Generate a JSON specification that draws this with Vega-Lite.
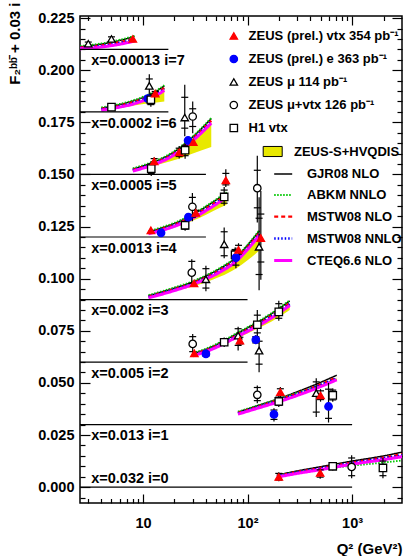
{
"$schema": "https://vega.github.io/schema/vega-lite/v6.json",
"width": 322, "height": 487,
"autosize": {"type": "none"},
"padding": {"left": 80, "top": 16, "right": 1, "bottom": 53},
"background": "white",
"datasets": {
"theory": [
{"i":7,"q":2.5,"gjr":0.2113,"abkm":0.2116,"mnlo":0.2109,"mnnlo":0.2107,"cteq":0.2103,"blo":0.2105,"bhi":0.2108},
{"i":7,"q":3.5,"gjr":0.2121,"abkm":0.2124,"mnlo":0.2116,"mnnlo":0.2113,"cteq":0.2108,"blo":0.2112,"bhi":0.2113},
{"i":7,"q":5,"gjr":0.2134,"abkm":0.2137,"mnlo":0.2127,"mnnlo":0.2123,"cteq":0.2118,"blo":0.2120,"bhi":0.2124},
{"i":7,"q":6.5,"gjr":0.2147,"abkm":0.2150,"mnlo":0.2139,"mnnlo":0.2134,"cteq":0.2128,"blo":0.2130,"bhi":0.2135},
{"i":7,"q":8.3,"gjr":0.2162,"abkm":0.2165,"mnlo":0.2152,"mnnlo":0.2147,"cteq":0.2140,"blo":0.2140,"bhi":0.2147},
{"i":6,"q":4,"gjr":0.1818,"abkm":0.1821,"mnlo":0.1814,"mnnlo":0.1812,"cteq":0.1808,"blo":0.1808,"bhi":0.1813},
{"i":6,"q":6,"gjr":0.1835,"abkm":0.1838,"mnlo":0.1830,"mnnlo":0.1827,"cteq":0.1823,"blo":0.1820,"bhi":0.1828},
{"i":6,"q":8,"gjr":0.1852,"abkm":0.1855,"mnlo":0.1846,"mnnlo":0.1842,"cteq":0.1837,"blo":0.1830,"bhi":0.1843},
{"i":6,"q":11,"gjr":0.1878,"abkm":0.1881,"mnlo":0.1870,"mnnlo":0.1867,"cteq":0.1861,"blo":0.1840,"bhi":0.1867},
{"i":6,"q":13.5,"gjr":0.1900,"abkm":0.1903,"mnlo":0.1891,"mnnlo":0.1887,"cteq":0.1880,"blo":0.1845,"bhi":0.1887},
{"i":6,"q":16,"gjr":0.1925,"abkm":0.1928,"mnlo":0.1915,"mnnlo":0.1910,"cteq":0.1903,"blo":0.1850,"bhi":0.1910},
{"i":5,"q":8,"gjr":0.1526,"abkm":0.1529,"mnlo":0.1522,"mnnlo":0.1520,"cteq":0.1516,"blo":0.1516,"bhi":0.1521},
{"i":5,"q":12,"gjr":0.1555,"abkm":0.1558,"mnlo":0.1550,"mnnlo":0.1548,"cteq":0.1543,"blo":0.1538,"bhi":0.1548},
{"i":5,"q":18,"gjr":0.1595,"abkm":0.1598,"mnlo":0.1589,"mnnlo":0.1586,"cteq":0.1581,"blo":0.1562,"bhi":0.1587},
{"i":5,"q":25,"gjr":0.1645,"abkm":0.1648,"mnlo":0.1638,"mnnlo":0.1634,"cteq":0.1629,"blo":0.1585,"bhi":0.1635},
{"i":5,"q":30,"gjr":0.1680,"abkm":0.1683,"mnlo":0.1672,"mnnlo":0.1668,"cteq":0.1662,"blo":0.1600,"bhi":0.1668},
{"i":5,"q":36,"gjr":0.1718,"abkm":0.1721,"mnlo":0.1709,"mnnlo":0.1705,"cteq":0.1698,"blo":0.1615,"bhi":0.1705},
{"i":5,"q":45,"gjr":0.1768,"abkm":0.1771,"mnlo":0.1758,"mnnlo":0.1753,"cteq":0.1746,"blo":0.1632,"bhi":0.1753},
{"i":4,"q":11.3,"gjr":0.1225,"abkm":0.1228,"mnlo":0.1221,"mnnlo":0.1219,"cteq":0.1215,"blo":0.1216,"bhi":0.1220},
{"i":4,"q":15,"gjr":0.1243,"abkm":0.1246,"mnlo":0.1238,"mnnlo":0.1235,"cteq":0.1231,"blo":0.1228,"bhi":0.1236},
{"i":4,"q":20,"gjr":0.1265,"abkm":0.1268,"mnlo":0.1259,"mnnlo":0.1256,"cteq":0.1251,"blo":0.1245,"bhi":0.1257},
{"i":4,"q":27,"gjr":0.1295,"abkm":0.1298,"mnlo":0.1288,"mnnlo":0.1285,"cteq":0.1279,"blo":0.1268,"bhi":0.1285},
{"i":4,"q":35,"gjr":0.1327,"abkm":0.1330,"mnlo":0.1319,"mnnlo":0.1315,"cteq":0.1309,"blo":0.1292,"bhi":0.1315},
{"i":4,"q":47,"gjr":0.1368,"abkm":0.1371,"mnlo":0.1359,"mnnlo":0.1354,"cteq":0.1348,"blo":0.1325,"bhi":0.1355},
{"i":4,"q":63,"gjr":0.1412,"abkm":0.1415,"mnlo":0.1402,"mnnlo":0.1397,"cteq":0.1390,"blo":0.1355,"bhi":0.1397},
{"i":3,"q":11.3,"gjr":0.0918,"abkm":0.0921,"mnlo":0.0914,"mnnlo":0.0912,"cteq":0.0908,"blo":0.0910,"bhi":0.0913},
{"i":3,"q":20,"gjr":0.0955,"abkm":0.0958,"mnlo":0.0950,"mnnlo":0.0948,"cteq":0.0943,"blo":0.0940,"bhi":0.0949},
{"i":3,"q":30,"gjr":0.0985,"abkm":0.0988,"mnlo":0.0979,"mnnlo":0.0976,"cteq":0.0972,"blo":0.0962,"bhi":0.0977},
{"i":3,"q":40,"gjr":0.1013,"abkm":0.1016,"mnlo":0.1006,"mnnlo":0.1003,"cteq":0.0998,"blo":0.0983,"bhi":0.1004},
{"i":3,"q":55,"gjr":0.1050,"abkm":0.1053,"mnlo":0.1043,"mnnlo":0.1039,"cteq":0.1033,"blo":0.1010,"bhi":0.1039},
{"i":3,"q":77,"gjr":0.1100,"abkm":0.1103,"mnlo":0.1092,"mnnlo":0.1088,"cteq":0.1081,"blo":0.1048,"bhi":0.1088},
{"i":3,"q":100,"gjr":0.1160,"abkm":0.1163,"mnlo":0.1151,"mnnlo":0.1146,"cteq":0.1140,"blo":0.1088,"bhi":0.1146},
{"i":3,"q":130,"gjr":0.1230,"abkm":0.1233,"mnlo":0.1220,"mnnlo":0.1215,"cteq":0.1208,"blo":0.1135,"bhi":0.1215},
{"i":2,"q":30,"gjr":0.0640,"abkm":0.0643,"mnlo":0.0636,"mnnlo":0.0634,"cteq":0.0630,"blo":0.0631,"bhi":0.0635},
{"i":2,"q":45,"gjr":0.0672,"abkm":0.0675,"mnlo":0.0667,"mnnlo":0.0664,"cteq":0.0660,"blo":0.0658,"bhi":0.0665},
{"i":2,"q":60,"gjr":0.0703,"abkm":0.0706,"mnlo":0.0697,"mnnlo":0.0694,"cteq":0.0689,"blo":0.0684,"bhi":0.0695},
{"i":2,"q":85,"gjr":0.0745,"abkm":0.0748,"mnlo":0.0738,"mnnlo":0.0734,"cteq":0.0729,"blo":0.0720,"bhi":0.0735},
{"i":2,"q":124,"gjr":0.0790,"abkm":0.0793,"mnlo":0.0782,"mnnlo":0.0778,"cteq":0.0772,"blo":0.0760,"bhi":0.0778},
{"i":2,"q":170,"gjr":0.0832,"abkm":0.0835,"mnlo":0.0823,"mnnlo":0.0819,"cteq":0.0812,"blo":0.0795,"bhi":0.0819},
{"i":2,"q":253,"gjr":0.0893,"abkm":0.0896,"mnlo":0.0883,"mnnlo":0.0878,"cteq":0.0871,"blo":0.0850,"bhi":0.0878},
{"i":1,"q":81,"gjr":0.0360,"abkm":0.0362,"mnlo":0.0356,"mnnlo":0.0354,"cteq":0.0350,"blo":0.0350,"bhi":0.0355},
{"i":1,"q":120,"gjr":0.0388,"abkm":0.0389,"mnlo":0.0383,"mnnlo":0.0381,"cteq":0.0376,"blo":0.0376,"bhi":0.0381},
{"i":1,"q":200,"gjr":0.0425,"abkm":0.0424,"mnlo":0.0419,"mnnlo":0.0417,"cteq":0.0410,"blo":0.0410,"bhi":0.0416},
{"i":1,"q":300,"gjr":0.0458,"abkm":0.0453,"mnlo":0.0450,"mnnlo":0.0447,"cteq":0.0440,"blo":0.0440,"bhi":0.0447},
{"i":1,"q":450,"gjr":0.0493,"abkm":0.0482,"mnlo":0.0484,"mnnlo":0.0481,"cteq":0.0473,"blo":0.0472,"bhi":0.0480},
{"i":1,"q":713,"gjr":0.0537,"abkm":0.0518,"mnlo":0.0527,"mnnlo":0.0522,"cteq":0.0515,"blo":0.0512,"bhi":0.0522},
{"i":0,"q":191,"gjr":0.0058,"abkm":0.0056,"mnlo":0.0054,"mnnlo":0.0052,"cteq":0.0048,"blo":0.0050,"bhi":0.0053},
{"i":0,"q":300,"gjr":0.0078,"abkm":0.0072,"mnlo":0.0073,"mnnlo":0.0071,"cteq":0.0066,"blo":0.0067,"bhi":0.0071},
{"i":0,"q":500,"gjr":0.0098,"abkm":0.0086,"mnlo":0.0092,"mnnlo":0.0090,"cteq":0.0084,"blo":0.0084,"bhi":0.0089},
{"i":0,"q":1000,"gjr":0.0125,"abkm":0.0103,"mnlo":0.0118,"mnnlo":0.0116,"cteq":0.0110,"blo":0.0109,"bhi":0.0116},
{"i":0,"q":2000,"gjr":0.0150,"abkm":0.0118,"mnlo":0.0142,"mnnlo":0.0139,"cteq":0.0132,"blo":0.0131,"bhi":0.0138},
{"i":0,"q":3000,"gjr":0.0168,"abkm":0.0128,"mnlo":0.0158,"mnnlo":0.0153,"cteq":0.0146,"blo":0.0145,"bhi":0.0153}
],
"points": [
{"i":7,"s":"c","q":3.0,"y":0.2127,"tlo":0.2115,"thi":0.2140,"slo":0.2119,"shi":0.2135},
{"i":7,"s":"c","q":5.0,"y":0.2150,"tlo":0.2135,"thi":0.2165,"slo":0.2140,"shi":0.2160},
{"i":7,"s":"a","q":8.0,"y":0.2150,"tlo":0.2143,"thi":0.2157,"slo":null,"shi":null},
{"i":6,"s":"e","q":5.0,"y":0.1823,"tlo":0.1816,"thi":0.1830,"slo":null,"shi":null},
{"i":6,"s":"c","q":11.5,"y":0.1925,"tlo":0.1835,"thi":0.1980,"slo":0.1850,"shi":0.1958},
{"i":6,"s":"b","q":11.1,"y":0.1864,"tlo":0.1850,"thi":0.1878,"slo":0.1855,"shi":0.1873},
{"i":6,"s":"e","q":11.9,"y":0.1858,"tlo":0.1825,"thi":0.1890,"slo":0.1835,"shi":0.1880},
{"i":6,"s":"a","q":13.1,"y":0.1888,"tlo":0.1873,"thi":0.1903,"slo":0.1878,"shi":0.1898},
{"i":5,"s":"e","q":12.0,"y":0.1528,"tlo":0.1492,"thi":0.1564,"slo":0.1505,"shi":0.1550},
{"i":5,"s":"a","q":12.8,"y":0.1563,"tlo":0.1543,"thi":0.1583,"slo":0.1550,"shi":0.1576},
{"i":5,"s":"a","q":22.2,"y":0.1606,"tlo":0.1576,"thi":0.1636,"slo":0.1586,"shi":0.1626},
{"i":5,"s":"e","q":25.3,"y":0.1616,"tlo":0.1575,"thi":0.1655,"slo":0.1590,"shi":0.1640},
{"i":5,"s":"c","q":25.1,"y":0.1773,"tlo":0.1683,"thi":0.1930,"slo":0.1722,"shi":0.1870},
{"i":5,"s":"d","q":29.9,"y":0.1778,"tlo":0.1698,"thi":0.1850,"slo":0.1730,"shi":0.1815},
{"i":5,"s":"b","q":27.0,"y":0.1663,"tlo":0.1648,"thi":0.1678,"slo":null,"shi":null},
{"i":5,"s":"a","q":30.3,"y":0.1655,"tlo":0.1640,"thi":0.1670,"slo":null,"shi":null},
{"i":4,"s":"a","q":11.9,"y":0.1232,"tlo":0.1222,"thi":0.1242,"slo":null,"shi":null},
{"i":4,"s":"b","q":14.9,"y":0.1220,"tlo":0.1212,"thi":0.1228,"slo":null,"shi":null},
{"i":4,"s":"e","q":25.3,"y":0.1256,"tlo":0.1230,"thi":0.1282,"slo":0.1238,"shi":0.1274},
{"i":4,"s":"d","q":29.7,"y":0.1345,"tlo":0.1276,"thi":0.1411,"slo":0.1295,"shi":0.1390},
{"i":4,"s":"b","q":27.2,"y":0.1295,"tlo":0.1280,"thi":0.1310,"slo":null,"shi":null},
{"i":4,"s":"a","q":32.0,"y":0.1316,"tlo":0.1298,"thi":0.1334,"slo":0.1304,"shi":0.1328},
{"i":4,"s":"e","q":59.8,"y":0.1392,"tlo":0.1350,"thi":0.1440,"slo":0.1362,"shi":0.1425},
{"i":4,"s":"a","q":62,"y":0.1472,"tlo":0.1440,"thi":0.1525,"slo":0.1450,"shi":0.1505},
{"i":4,"s":"d","q":124,"y":0.1434,"tlo":0.1270,"thi":0.1590,"slo":0.1340,"shi":0.1520},
{"i":3,"s":"d","q":29.3,"y":0.1029,"tlo":0.0966,"thi":0.1093,"slo":0.0978,"shi":0.1083},
{"i":3,"s":"a","q":30.8,"y":0.0977,"tlo":0.0965,"thi":0.0989,"slo":null,"shi":null},
{"i":3,"s":"c","q":40,"y":0.0997,"tlo":0.0940,"thi":0.1062,"slo":0.0955,"shi":0.1048},
{"i":3,"s":"c","q":59.8,"y":0.1165,"tlo":0.1098,"thi":0.1245,"slo":0.1110,"shi":0.1225},
{"i":3,"s":"e","q":76,"y":0.1115,"tlo":0.1080,"thi":0.1150,"slo":0.1090,"shi":0.1140},
{"i":3,"s":"b","q":77.4,"y":0.1101,"tlo":0.1050,"thi":0.1150,"slo":0.1065,"shi":0.1135},
{"i":3,"s":"a","q":82,"y":0.1138,"tlo":0.1110,"thi":0.1170,"slo":0.1118,"shi":0.1160},
{"i":3,"s":"c","q":129,"y":0.1153,"tlo":0.0945,"thi":0.1390,"slo":0.1020,"shi":0.1290},
{"i":3,"s":"a","q":134,"y":0.1195,"tlo":0.0995,"thi":0.1420,"slo":0.1080,"shi":0.1310},
{"i":2,"s":"d","q":29.9,"y":0.0687,"tlo":0.0639,"thi":0.0735,"slo":0.0650,"shi":0.0722},
{"i":2,"s":"a","q":31,"y":0.0642,"tlo":0.0632,"thi":0.0652,"slo":null,"shi":null},
{"i":2,"s":"b","q":40,"y":0.0639,"tlo":0.0625,"thi":0.0653,"slo":0.0629,"shi":0.0649},
{"i":2,"s":"e","q":59.8,"y":0.0695,"tlo":0.0672,"thi":0.0718,"slo":0.0680,"shi":0.0710},
{"i":2,"s":"c","q":81.3,"y":0.0727,"tlo":0.0655,"thi":0.0770,"slo":0.0680,"shi":0.0760},
{"i":2,"s":"a","q":84.5,"y":0.0703,"tlo":0.0680,"thi":0.0726,"slo":0.0687,"shi":0.0719},
{"i":2,"s":"e","q":124,"y":0.0779,"tlo":0.0720,"thi":0.0850,"slo":0.0740,"shi":0.0825},
{"i":2,"s":"b","q":120,"y":0.0707,"tlo":0.0685,"thi":0.0730,"slo":0.0692,"shi":0.0722},
{"i":2,"s":"c","q":129,"y":0.0655,"tlo":0.0551,"thi":0.0718,"slo":0.0590,"shi":0.0700},
{"i":2,"s":"e","q":199,"y":0.0841,"tlo":0.0798,"thi":0.0894,"slo":0.0810,"shi":0.0880},
{"i":1,"s":"d","q":124,"y":0.0443,"tlo":0.0402,"thi":0.0488,"slo":0.0415,"shi":0.0478},
{"i":1,"s":"b","q":179,"y":0.0349,"tlo":0.0315,"thi":0.0378,"slo":0.0325,"shi":0.0370},
{"i":1,"s":"e","q":199,"y":0.0411,"tlo":0.0385,"thi":0.0440,"slo":0.0392,"shi":0.0432},
{"i":1,"s":"a","q":206,"y":0.0456,"tlo":0.0432,"thi":0.0480,"slo":0.0440,"shi":0.0472},
{"i":1,"s":"c","q":454,"y":0.0451,"tlo":0.0336,"thi":0.0522,"slo":0.0360,"shi":0.0505},
{"i":1,"s":"a","q":499,"y":0.0440,"tlo":0.0410,"thi":0.0470,"slo":0.0420,"shi":0.0462},
{"i":1,"s":"b","q":595,"y":0.0387,"tlo":0.0310,"thi":0.0500,"slo":0.0330,"shi":0.0470},
{"i":1,"s":"e","q":653,"y":0.0440,"tlo":0.0410,"thi":0.0475,"slo":0.0418,"shi":0.0465},
{"i":0,"s":"a","q":199,"y":0.0049,"tlo":0.0028,"thi":0.0072,"slo":0.0034,"shi":0.0066},
{"i":0,"s":"a","q":495,"y":0.0068,"tlo":0.0040,"thi":0.0090,"slo":0.0048,"shi":0.0083},
{"i":0,"s":"e","q":653,"y":0.0100,"tlo":0.0080,"thi":0.0120,"slo":0.0086,"shi":0.0114},
{"i":0,"s":"d","q":990,"y":0.0097,"tlo":0.0043,"thi":0.0153,"slo":0.0055,"shi":0.0140},
{"i":0,"s":"e","q":1972,"y":0.0092,"tlo":0.0043,"thi":0.0140,"slo":0.0055,"shi":0.0125}
],
"seps": [
{"y":0.21,"q1":2.5,"q2":17.5},{"y":0.18,"q1":2.5,"q2":17.5},{"y":0.15,"q1":2.5,"q2":40},{"y":0.12,"q1":2.5,"q2":40},
{"y":0.09,"q1":2.5,"q2":100},{"y":0.06,"q1":2.5,"q2":100},{"y":0.03,"q1":2.5,"q2":1000},{"y":0,"q1":2.5,"q2":1000}
],
"labels": [
{"lab":"x=0.00013 i=7","q":3.2,"y":0.2043},
{"lab":"x=0.0002 i=6","q":3.2,"y":0.1743},
{"lab":"x=0.0005 i=5","q":3.2,"y":0.1443},
{"lab":"x=0.0013 i=4","q":3.2,"y":0.1143},
{"lab":"x=0.002 i=3","q":3.2,"y":0.0843},
{"lab":"x=0.005 i=2","q":3.2,"y":0.0543},
{"lab":"x=0.013 i=1","q":3.2,"y":0.0243},
{"lab":"x=0.032 i=0","q":3.2,"y":0.0037}
]
},
"layer": [
{
"data": {"name": "theory"},
"mark": {"type": "area", "interpolate": "monotone", "clip": true},
"encoding": {
"x": {"field": "q", "type": "quantitative", "scale": {"type": "log", "domain": [2.5, 3000], "nice": false},
 "axis": {"orient": "top", "values": [10, 100, 1000], "tickSize": -9, "labels": false, "title": null}},
"y": {"field": "blo", "type": "quantitative", "scale": {"domain": [-0.0076, 0.226], "nice": false, "zero": false},
 "axis": {"orient": "right", "values": [0, 0.025, 0.05, 0.075, 0.1, 0.125, 0.15, 0.175, 0.2, 0.225], "tickSize": -10, "labels": false, "title": null}},
"y2": {"field": "bhi"},
"detail": {"field": "i", "type": "nominal"},
"fill": {"datum": "ZEUS-S+HVQDIS", "type": "nominal", "scale": {"domain": ["ZEUS-S+HVQDIS"], "range": ["#e8e800"]},
 "legend": {"orient": "none", "legendX": 182.7, "legendY": 125.5, "title": null, "padding": 0, "symbolType": "M-1,-0.53H1V0.53H-1Z", "symbolSize": 361, "symbolStrokeColor": "black", "symbolStrokeWidth": 1, "labelOffset": 11.3}}
}
},
{
"data": {"name": "theory"},
"transform": [{"fold": ["gjr", "abkm", "mnlo", "mnnlo", "cteq"], "as": ["t", "v"]}],
"mark": {"type": "line", "interpolate": "monotone", "clip": true},
"encoding": {
"x": {"field": "q", "type": "quantitative", "scale": {"type": "log", "domain": [2.5, 3000], "nice": false},
 "axis": {"orient": "top", "values": [3,4,5,6,7,8,9,20,30,40,50,60,70,80,90,200,300,400,500,600,700,800,900,2000], "tickSize": -4.5, "labels": false, "title": null}},
"y": {"field": "v", "type": "quantitative", "scale": {"domain": [-0.0076, 0.226], "nice": false, "zero": false},
 "axis": {"orient": "right", "values": [-0.005,0.005,0.01,0.015,0.02,0.03,0.035,0.04,0.045,0.055,0.06,0.065,0.07,0.08,0.085,0.09,0.095,0.105,0.11,0.115,0.12,0.13,0.135,0.14,0.145,0.155,0.16,0.165,0.17,0.18,0.185,0.19,0.195,0.205,0.21,0.215,0.22], "tickSize": -5, "labels": false, "title": null}},
"detail": {"field": "i", "type": "nominal"},
"stroke": {"field": "t", "type": "nominal", "scale": {"domain": ["gjr", "abkm", "mnlo", "mnnlo", "cteq"], "range": ["black", "#00c800", "#ff0000", "#0000ff", "#ff00ff"]},
 "legend": {"orient": "none", "legendX": 192.7, "legendY": 148, "title": null, "padding": 0, "symbolType": "stroke", "symbolSize": 324, "labelOffset": 13.3, "rowPadding": 4,
  "labelExpr": "datum.value=='gjr'?'GJR08 NLO':datum.value=='abkm'?'ABKM NNLO':datum.value=='mnlo'?'MSTW08 NLO':datum.value=='mnnlo'?'MSTW08 NNLO':'CTEQ6.6 NLO'"}},
"strokeDash": {"field": "t", "type": "nominal", "scale": {"domain": ["gjr", "abkm", "mnlo", "mnnlo", "cteq"], "range": [[1, 0], [1.5, 1.5], [4, 3], [1.5, 2], [1, 0]]},
 "legend": {"orient": "none", "legendX": 192.7, "legendY": 148, "title": null, "padding": 0, "symbolType": "stroke", "symbolSize": 324, "labelOffset": 13.3, "rowPadding": 4,
  "labelExpr": "datum.value=='gjr'?'GJR08 NLO':datum.value=='abkm'?'ABKM NNLO':datum.value=='mnlo'?'MSTW08 NLO':datum.value=='mnnlo'?'MSTW08 NNLO':'CTEQ6.6 NLO'"}},
"strokeWidth": {"field": "t", "type": "nominal", "scale": {"domain": ["gjr", "abkm", "mnlo", "mnnlo", "cteq"], "range": [1.5, 3, 1.3, 1.5, 2.5]},
 "legend": {"orient": "none", "legendX": 192.7, "legendY": 148, "title": null, "padding": 0, "symbolType": "stroke", "symbolSize": 324, "labelOffset": 13.3, "rowPadding": 4,
  "labelExpr": "datum.value=='gjr'?'GJR08 NLO':datum.value=='abkm'?'ABKM NNLO':datum.value=='mnlo'?'MSTW08 NLO':datum.value=='mnnlo'?'MSTW08 NNLO':'CTEQ6.6 NLO'"}}
}
},
{
"data": {"name": "seps"},
"mark": {"type": "rule", "color": "black", "strokeWidth": 1.2, "clip": true},
"encoding": {
"x": {"field": "q1", "type": "quantitative", "scale": {"type": "log", "domain": [2.5, 3000], "nice": false},
 "axis": {"orient": "bottom", "values": [10, 100, 1000], "tickSize": -9, "labelPadding": 29, "labelBaseline": "middle",
  "labelExpr": "datum.value==10?'10':datum.value==100?'10\u00b2':'10\u00b3'",
  "title": "Q\u00b2 (GeV\u00b2)", "titleAnchor": "end", "titleAlign": "right", "titleBaseline": "middle", "titleX": 322, "titleY": 45}},
"x2": {"field": "q2"},
"y": {"field": "y", "type": "quantitative", "scale": {"domain": [-0.0076, 0.226], "nice": false, "zero": false},
 "axis": {"orient": "left", "values": [0, 0.025, 0.05, 0.075, 0.1, 0.125, 0.15, 0.175, 0.2, 0.225], "format": ".3f", "tickSize": -10, "labelPadding": 16, "labelBaseline": "middle",
  "title": "F\u2082\u1d47\u1d47\u0304 + 0.03 i", "titleAngle": -90, "titleAnchor": "end", "titleAlign": "right", "titleBaseline": "middle", "titleX": -66, "titleY": -14, "titleFontSize": 15}}
}
},
{
"data": {"name": "points"},
"mark": {"type": "rule", "color": "black", "strokeWidth": 1.2, "clip": true},
"encoding": {
"x": {"field": "q", "type": "quantitative", "scale": {"type": "log", "domain": [2.5, 3000], "nice": false}, "axis": null},
"y": {"field": "tlo", "type": "quantitative", "scale": {"domain": [-0.0076, 0.226], "nice": false, "zero": false}, "axis": null},
"y2": {"field": "thi"}
}
},
{
"data": {"name": "points"},
"mark": {"type": "tick", "orient": "horizontal", "color": "black", "size": 7, "thickness": 1.2, "opacity": 1, "clip": true},
"encoding": {
"x": {"field": "q", "type": "quantitative", "scale": {"type": "log", "domain": [2.5, 3000], "nice": false}, "axis": null},
"y": {"field": "slo", "type": "quantitative", "scale": {"domain": [-0.0076, 0.226], "nice": false, "zero": false}, "axis": null}
}
},
{
"data": {"name": "points"},
"mark": {"type": "tick", "orient": "horizontal", "color": "black", "size": 7, "thickness": 1.2, "opacity": 1, "clip": true},
"encoding": {
"x": {"field": "q", "type": "quantitative", "scale": {"type": "log", "domain": [2.5, 3000], "nice": false}, "axis": null},
"y": {"field": "shi", "type": "quantitative", "scale": {"domain": [-0.0076, 0.226], "nice": false, "zero": false}, "axis": null}
}
},
{
"data": {"name": "points"},
"mark": {"type": "point", "filled": true, "size": 55, "strokeWidth": 1.3, "opacity": 1, "clip": true},
"encoding": {
"x": {"field": "q", "type": "quantitative", "scale": {"type": "log", "domain": [2.5, 3000], "nice": false}, "axis": null},
"y": {"field": "y", "type": "quantitative", "scale": {"domain": [-0.0076, 0.226], "nice": false, "zero": false}, "axis": null},
"shape": {"field": "s", "type": "nominal", "scale": {"domain": ["a", "b", "c", "d", "e"], "range": ["triangle-up", "circle", "triangle-up", "circle", "square"]},
 "legend": {"orient": "none", "legendX": 147.3, "legendY": 13.5, "title": null, "padding": 0, "symbolSize": 55, "symbolStrokeWidth": 1.3, "labelOffset": 8.3, "rowPadding": 9,
  "labelExpr": "datum.value=='a'?'ZEUS (prel.) vtx 354 pb\u207b\u00b9':datum.value=='b'?'ZEUS (prel.) e 363 pb\u207b\u00b9':datum.value=='c'?'ZEUS \u03bc 114 pb\u207b\u00b9':datum.value=='d'?'ZEUS \u03bc+vtx 126 pb\u207b\u00b9':'H1 vtx'"}},
"fill": {"field": "s", "type": "nominal", "scale": {"domain": ["a", "b", "c", "d", "e"], "range": ["#ff0000", "#0000ff", "white", "white", "white"]},
 "legend": {"orient": "none", "legendX": 147.3, "legendY": 13.5, "title": null, "padding": 0, "symbolSize": 55, "symbolStrokeWidth": 1.3, "labelOffset": 8.3, "rowPadding": 9,
  "labelExpr": "datum.value=='a'?'ZEUS (prel.) vtx 354 pb\u207b\u00b9':datum.value=='b'?'ZEUS (prel.) e 363 pb\u207b\u00b9':datum.value=='c'?'ZEUS \u03bc 114 pb\u207b\u00b9':datum.value=='d'?'ZEUS \u03bc+vtx 126 pb\u207b\u00b9':'H1 vtx'"}},
"stroke": {"field": "s", "type": "nominal", "scale": {"domain": ["a", "b", "c", "d", "e"], "range": ["#ff0000", "#0000ff", "black", "black", "black"]},
 "legend": {"orient": "none", "legendX": 147.3, "legendY": 13.5, "title": null, "padding": 0, "symbolSize": 55, "symbolStrokeWidth": 1.3, "labelOffset": 8.3, "rowPadding": 9,
  "labelExpr": "datum.value=='a'?'ZEUS (prel.) vtx 354 pb\u207b\u00b9':datum.value=='b'?'ZEUS (prel.) e 363 pb\u207b\u00b9':datum.value=='c'?'ZEUS \u03bc 114 pb\u207b\u00b9':datum.value=='d'?'ZEUS \u03bc+vtx 126 pb\u207b\u00b9':'H1 vtx'"}}
}
},
{
"data": {"name": "labels"},
"mark": {"type": "text", "align": "left", "baseline": "middle", "font": "Liberation Sans", "fontWeight": "bold", "fontSize": 14.5, "color": "black"},
"encoding": {
"x": {"field": "q", "type": "quantitative", "scale": {"type": "log", "domain": [2.5, 3000], "nice": false},
 "axis": {"orient": "bottom", "values": [3,4,5,6,7,8,9,20,30,40,50,60,70,80,90,200,300,400,500,600,700,800,900,2000], "tickSize": -4.5, "labels": false, "title": null}},
"y": {"field": "y", "type": "quantitative", "scale": {"domain": [-0.0076, 0.226], "nice": false, "zero": false},
 "axis": {"orient": "left", "values": [-0.005,0.005,0.01,0.015,0.02,0.03,0.035,0.04,0.045,0.055,0.06,0.065,0.07,0.08,0.085,0.09,0.095,0.105,0.11,0.115,0.12,0.13,0.135,0.14,0.145,0.155,0.16,0.165,0.17,0.18,0.185,0.19,0.195,0.205,0.21,0.215,0.22], "tickSize": -5, "labels": false, "title": null}},
"text": {"field": "lab", "type": "nominal"}
}
}
],
"resolve": {"axis": {"x": "independent", "y": "independent"}, "scale": {"fill": "independent", "stroke": "independent", "shape": "independent", "strokeDash": "independent", "strokeWidth": "independent"}},
"config": {
"font": "Liberation Sans",
"view": {"stroke": "black", "strokeWidth": 1.5},
"axis": {"grid": false, "domain": false, "labelFont": "Liberation Sans", "labelFontWeight": "bold", "labelFontSize": 14.5, "labelColor": "black", "tickColor": "black", "tickWidth": 1.2, "titleFont": "Liberation Sans", "titleFontWeight": "bold", "titleFontSize": 15, "titleColor": "black", "labelFlush": false, "labelOverlap": false},
"legend": {"labelFont": "Liberation Sans", "labelFontWeight": "bold", "labelFontSize": 13, "labelColor": "black", "padding": 0}
}
}
